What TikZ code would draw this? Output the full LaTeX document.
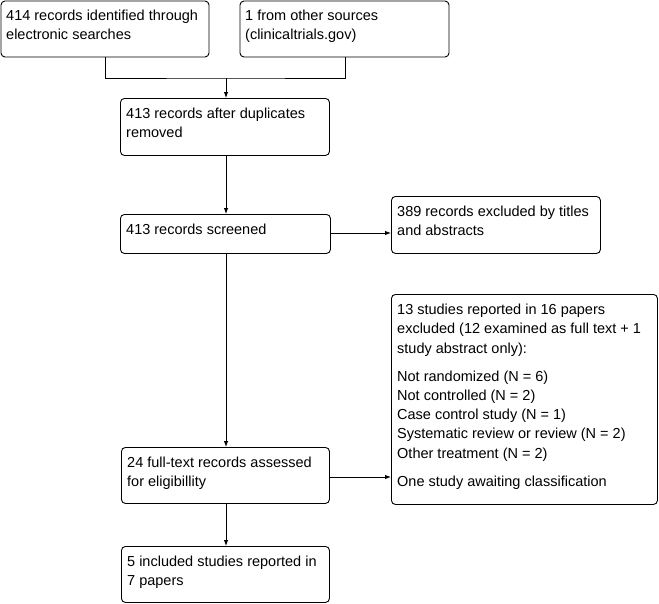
\documentclass[tikz,border=0pt]{standalone}
\usepackage{fontspec}
\setmainfont{Liberation Sans}
\usetikzlibrary{arrows.meta,calc}
\tikzset{
  box/.style={draw, line width=0.9pt, rounded corners=4pt},
  txt/.style={anchor=north west, inner sep=0pt, align=left, font=\fontsize{14.5}{19.2}\selectfont},
  conn/.style={line width=0.9pt},
  arr/.style={line width=0.9pt, -{Latex[length=6pt,width=4.5pt]}}
}
\begin{document}
\begin{tikzpicture}[x=1pt,y=-1pt]
\useasboundingbox (0,0) rectangle (659,603);
% boxes
\draw[box] (1,1) rectangle (209,57);
\coordinate (A) at (105,57);
\node[txt] (At) at (6,10) {414 records identified through\\electronic searches};
\draw[box] (240,1) rectangle (449,57);
\coordinate (B) at (345,57);
\node[txt] (Bt) at (245,10) {1 from other sources\\(clinicaltrials.gov)};
\node[box, anchor=north west, minimum width=209pt, minimum height=57pt, inner sep=0pt] (C) at (120,98) {};
\node[txt] (Ct) at (126,108) {413 records after duplicates\\removed};
\node[box, anchor=north west, minimum width=210pt, minimum height=39pt, inner sep=0pt] (D) at (120,214) {};
\node[txt] (Dt) at (126,224) {413 records screened};
\node[box, anchor=north west, minimum width=209pt, minimum height=57pt, inner sep=0pt] (E) at (391,196) {};
\node[txt] (Et) at (397,206) {389 records excluded by titles\\and abstracts};
\node[box, anchor=north west, minimum width=266pt, minimum height=210pt, inner sep=0pt] (F) at (391,294) {};
\node[txt] (Ft) at (397,304) {13 studies reported in 16 papers\\excluded (12 examined as full text + 1\\study abstract only):\\[9pt]Not randomized (N = 6)\\Not controlled (N = 2)\\Case control study (N = 1)\\Systematic review or review (N = 2)\\Other treatment (N = 2)\\[9pt]One study awaiting classification};
\node[box, anchor=north west, minimum width=208pt, minimum height=56pt, inner sep=0pt] (G) at (121,447) {};
\node[txt] (Gt) at (127,457) {24 full-text records assessed\\for eligibillity};
\node[box, anchor=north west, minimum width=208pt, minimum height=56pt, inner sep=0pt] (H) at (121,546) {};
\node[txt] (Ht) at (127,556) {5 included studies reported in\\7 papers};
% connectors
\coordinate (J) at (226,78);
\draw[conn] (A) |- (J) -| (B);
\draw[arr] (J) -- (J |- C.north);
\draw[arr] (J |- C.south) -- (J |- D.north);
\draw[arr] (D.east |- 0,233) -- (E.west |- 0,233);
\draw[arr] (J |- D.south) -- (J |- G.north);
\draw[arr] (G.east |- 0,477) -- (F.west |- 0,477);
\draw[arr] (J |- G.south) -- (J |- H.north);
\end{tikzpicture}
\end{document}
